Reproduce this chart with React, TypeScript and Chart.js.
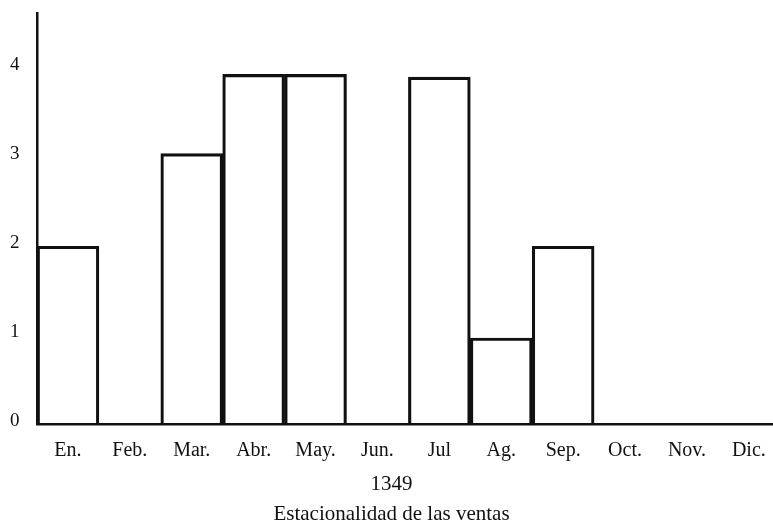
import React, { useEffect, useRef } from "react";
import { Chart, registerables } from "chart.js";

Chart.register(...registerables);

const months = ["En.", "Feb.", "Mar.", "Abr.", "May.", "Jun.", "Jul", "Ag.", "Sep.", "Oct.", "Nov.", "Dic."];
const sales = [2, 0, 3.04, 3.93, 3.93, 0, 3.9, 0.97, 2, 0, 0, 0];
const yTicks = [0, 1, 2, 3, 4];
const titleLines = ["1349", "Estacionalidad de las ventas"];

const Y_MAX = 4.62;
const X_MAX = 11.89;
const FONT = "'Liberation Serif', 'Times New Roman', serif";

export default function App() {
  const ref = useRef<HTMLCanvasElement | null>(null);

  useEffect(() => {
    if (!ref.current) return;
    const chart = new Chart(ref.current, {
      type: "bar",
      data: {
        datasets: [
          {
            data: sales.map((v, i) => ({ x: i + 0.5, y: v })),
            backgroundColor: "rgba(255,255,255,0)",
            borderColor: "#111",
            borderWidth: 2.5,
            barPercentage: 1,
            categoryPercentage: 1,
          },
        ],
      },
      options: {
        animation: false,
        responsive: true,
        maintainAspectRatio: false,
        layout: { padding: { left: 10, top: 13, right: 0, bottom: 0 } },
        plugins: {
          legend: { display: false },
          tooltip: { enabled: false },
          title: {
            display: true,
            position: "bottom",
            text: titleLines,
            color: "#111",
            font: { family: FONT, size: 21, weight: "normal", lineHeight: 1.42 },
            padding: { top: 7, bottom: 0 },
          },
        },
        scales: {
          x: {
            type: "linear",
            min: 0,
            max: X_MAX,
            offset: false,
            grid: { display: false, drawTicks: false, offset: false },
            border: { display: true, color: "#111", width: 2.5 },
            afterBuildTicks: (axis: any) => {
              axis.ticks = months.map((_, i) => ({ value: i + 0.5 }));
            },
            afterFit: (axis: any) => {
              axis.height = 38;
            },
            ticks: {
              autoSkip: false,
              maxRotation: 0,
              padding: 0,
              color: "#111",
              font: { family: FONT, size: 20, lineHeight: 2.6 },
              callback: (_v: any, idx: number) => months[idx],
            },
          },
          y: {
            min: 0,
            max: Y_MAX,
            grid: { display: false, drawTicks: false },
            border: { display: true, color: "#111", width: 2.5 },
            afterBuildTicks: (axis: any) => {
              axis.ticks = yTicks.map((v) => ({ value: v }));
            },
            afterFit: (axis: any) => {
              axis.width = 27;
            },
            ticks: {
              padding: 0,
              crossAlign: "far",
              labelOffset: -3,
              color: "#111",
              font: { family: FONT, size: 19 },
            },
          },
        },
      },
    });
    return () => chart.destroy();
  }, []);

  return (
    <div style={{ position: "absolute", left: 0, top: 0, width: 773, height: 529, background: "#fff" }}>
      <canvas ref={ref} />
    </div>
  );
}
